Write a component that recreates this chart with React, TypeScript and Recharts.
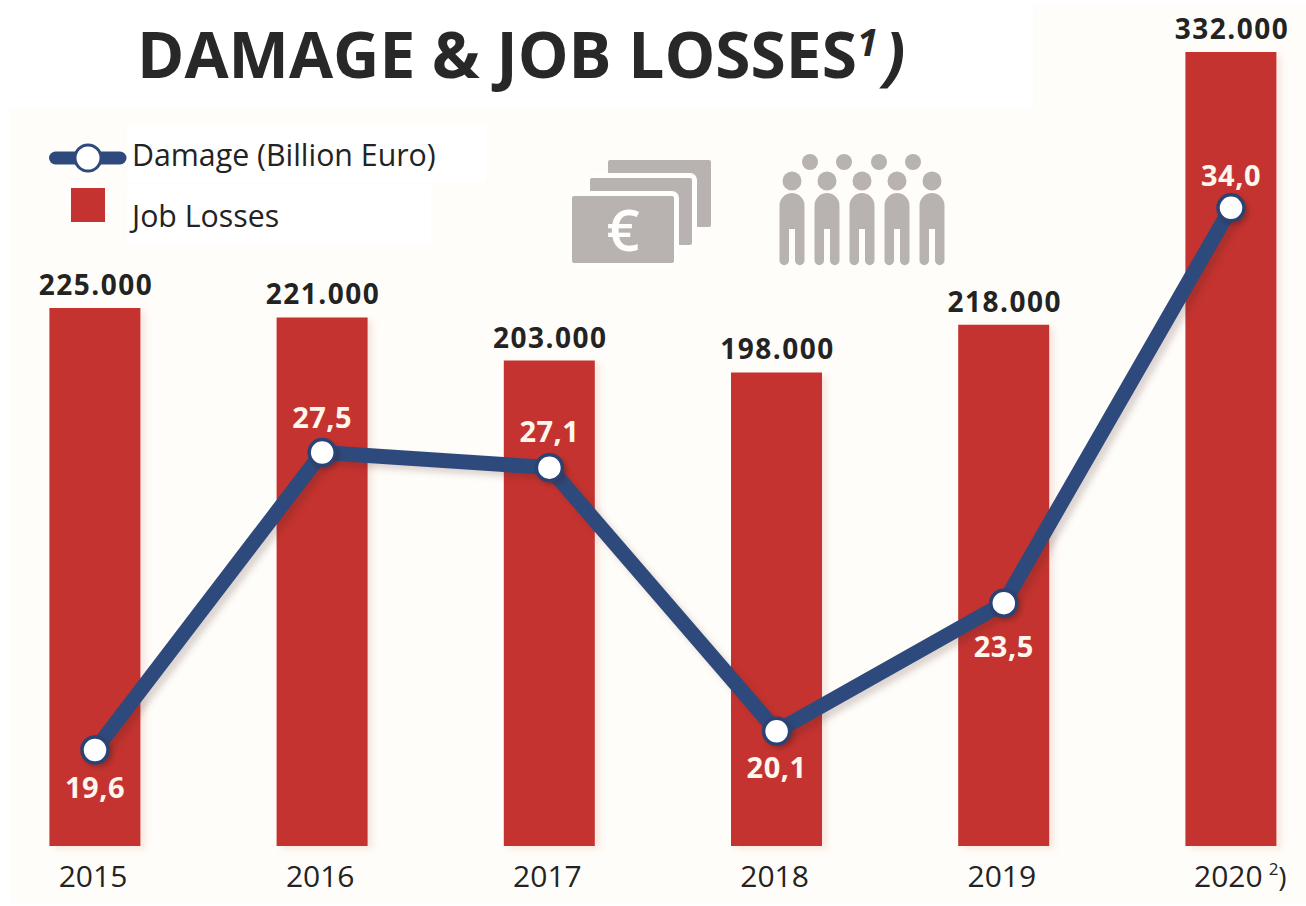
import {
  Bar,
  ComposedChart,
  LabelList,
  Legend,
  Line,
  XAxis,
  YAxis
} from 'recharts'

const years = ['2015', '2016', '2017', '2018', '2019', '2020']
const jobLosses = [225000, 221000, 203000, 198000, 218000, 332000]
const damage = [19.6, 27.5, 27.1, 20.1, 23.5, 34.0]

const chartData = years.map((year, i) => ({
  year,
  jobLosses: jobLosses[i],
  damage: damage[i]
}))

const FONT = '"Open Sans", sans-serif'
const RED = '#c4332f'
const NAVY = '#2e4a7d'
const GREY = '#b8b3b1'
const INK = '#232323'

// distance of each white label from its point, negative is above
const damageLabelOffsets = [37, -36, -37, 35, 42, -33]

const formatJobs = (value: number) => value.toLocaleString('de-DE')
const formatDamage = (value: number) => value.toFixed(1).replace('.', ',')

function YearTick({ x, y, payload }: any) {
  const isLast = payload.value === '2020'
  return (
    <text
      x={isLast ? x - 37 : x - 2}
      y={y + 33}
      textAnchor={isLast ? 'start' : 'middle'}
      fontFamily={FONT}
      fontSize={30}
      fill={INK}
    >
      {payload.value}
      {isLast && (
        <tspan dx={6} dy={-12} fontSize={17}>
          2
        </tspan>
      )}
      {isLast && (
        <tspan dy={12} fontSize={28}>
          )
        </tspan>
      )}
    </text>
  )
}

function DamageLabel({ x, y, value, index }: any) {
  return (
    <text
      x={x}
      y={y + damageLabelOffsets[index]}
      textAnchor="middle"
      dominantBaseline="central"
      fontFamily={FONT}
      fontSize={29}
      fontWeight={700}
      letterSpacing={0.5}
      fill="#fff6ee"
    >
      {formatDamage(value)}
    </text>
  )
}

function JobsLabel({ x, y, width, value }: any) {
  return (
    <text
      x={x + width / 2 + 1}
      y={y - 13}
      textAnchor="middle"
      fontFamily={FONT}
      fontSize={28}
      fontWeight={700}
      letterSpacing={1.5}
      fill={INK}
    >
      {formatJobs(value)}
    </text>
  )
}

function ChartLegend() {
  return (
    <div style={{ position: 'relative', width: 480, height: 130, fontFamily: FONT, fontSize: 30.3, color: INK }}>
      <div style={{ position: 'absolute', left: 78, top: 0, width: 359, height: 57, background: '#fff' }} />
      <div style={{ position: 'absolute', left: 78, top: 60, width: 304, height: 60, background: '#fff' }} />
      <svg width={90} height={120} style={{ position: 'absolute', left: 0, top: 0 }}>
        <line x1={6.5} y1={33} x2={71} y2={33} stroke={NAVY} strokeWidth={13} strokeLinecap="round" />
        <circle cx={39} cy={33} r={13} fill="#fff" stroke={NAVY} strokeWidth={3} />
        <rect x={22} y={63} width={34} height={34} fill={RED} />
      </svg>
      <span style={{ position: 'absolute', left: 83, top: 9 }}>Damage (Billion Euro)</span>
      <span style={{ position: 'absolute', left: 83, top: 70 }}>Job Losses</span>
    </div>
  )
}

function MoneyIcon() {
  return (
    <g>
      <rect x={608} y={160} width={103} height={67} rx={2} fill={GREY} />
      <rect x={590} y={178} width={102} height={67} rx={2} fill={GREY} stroke="#fffefc" strokeWidth={10} paintOrder="stroke" />
      <rect x={572} y={196} width={102} height={67} rx={2} fill={GREY} stroke="#fffefc" strokeWidth={10} paintOrder="stroke" />
      <text x={623} y={251} textAnchor="middle" fontFamily={FONT} fontSize={58} fontWeight={600} fill="#fffefc">
        €
      </text>
    </g>
  )
}

function PeopleIcon() {
  const back = [810, 844, 879, 913]
  const front = [792, 827, 862, 897, 932]
  return (
    <g fill={GREY}>
      {back.map((cx) => (
        <circle key={cx} cx={cx} cy={162} r={8} />
      ))}
      {front.map((cx) => (
        <g key={cx}>
          <circle cx={cx} cy={181} r={9.5} />
          <path
            d={`M${cx - 12.5} 205.5 a12.5 12.5 0 0 1 25 0 V260.5 a4.75 4.75 0 0 1 -9.5 0 V229 h-6 V260.5 a4.75 4.75 0 0 1 -9.5 0 Z`}
          />
        </g>
      ))}
    </g>
  )
}

export default function App() {
  return (
    <div style={{ position: 'absolute', left: 0, top: 0, width: 1306, height: 906, background: '#fff', overflow: 'hidden' }}>
      <div style={{ position: 'absolute', left: 10, top: 108, width: 1296, height: 797, background: '#fffdf9' }} />
      <div style={{ position: 'absolute', left: 1033, top: 5, width: 273, height: 110, background: '#fffdf9' }} />

      <div
        style={{
          position: 'absolute',
          left: 137,
          top: 10,
          fontFamily: FONT,
          fontSize: 64,
          fontWeight: 700,
          color: '#282828',
          whiteSpace: 'nowrap'
        }}
      >
        DAMAGE &amp; JOB LOSSES
        <span style={{ fontStyle: 'italic' }}>
          <sup style={{ fontSize: 38, lineHeight: 0 }}>1</sup>
          <span style={{ marginLeft: 6 }}>)</span>
        </span>
      </div>

      <svg width={1306} height={906} style={{ position: 'absolute', left: 0, top: 0 }}>
        <MoneyIcon />
        <PeopleIcon />
      </svg>

      <div style={{ position: 'absolute', left: 0, top: 0 }}>
        <ComposedChart
          width={1306}
          height={906}
          data={chartData}
          margin={{ top: 52, right: 0, bottom: 0, left: 0 }}
        >
          <XAxis
            dataKey="year"
            scale="point"
            padding={{ left: 95, right: 75 }}
            axisLine={false}
            tickLine={false}
            height={60}
            interval={0}
            tick={<YearTick />}
          />
          <YAxis yAxisId="jobs" hide domain={[0, 332000]} />
          <YAxis yAxisId="damage" hide orientation="right" domain={[17.05, 38.14]} />
          <Legend
            layout="horizontal"
            verticalAlign="middle"
            wrapperStyle={{ position: 'absolute', left: 49, top: 125, width: 480 }}
            content={<ChartLegend />}
          />
          <Bar
            yAxisId="jobs"
            dataKey="jobLosses"
            name="Job Losses"
            fill={RED}
            barSize={91}
            isAnimationActive={false}
            style={{ filter: 'drop-shadow(5px 3px 3px rgba(200,70,50,0.12))' }}
          >
            <LabelList dataKey="jobLosses" content={<JobsLabel />} />
          </Bar>
          <Line
            yAxisId="damage"
            dataKey="damage"
            name="Damage (Billion Euro)"
            type="linear"
            stroke={NAVY}
            strokeWidth={15}
            dot={{
              r: 13,
              fill: '#fff',
              stroke: '#2a4374',
              strokeWidth: 3.5,
              fillOpacity: 1,
              style: { filter: 'drop-shadow(3px 3px 2px rgba(60,30,30,0.3))' }
            }}
            isAnimationActive={false}
            style={{ filter: 'drop-shadow(5px 5px 3px rgba(60,30,30,0.18))' }}
          >
            <LabelList dataKey="damage" content={<DamageLabel />} />
          </Line>
        </ComposedChart>
      </div>
    </div>
  )
}
